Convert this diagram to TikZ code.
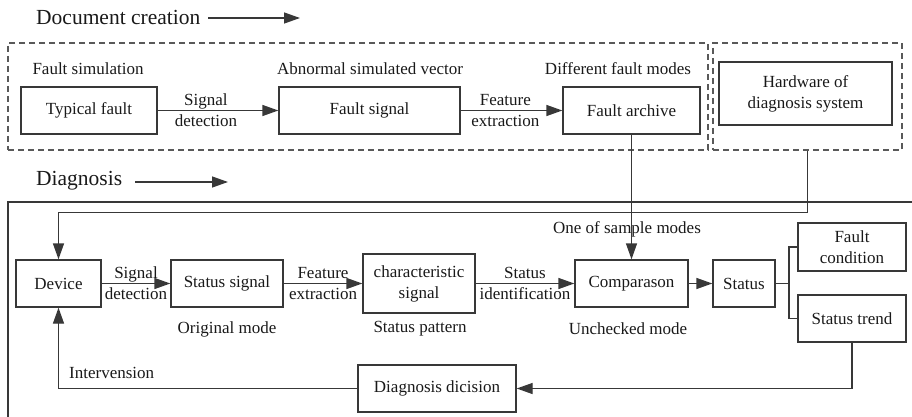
\documentclass[tikz,border=0pt]{standalone}
\usepackage{fontspec}
\setmainfont{Liberation Serif}
\usetikzlibrary{arrows.meta}
\begin{document}
\begin{tikzpicture}[x=1pt,y=-1pt,
  every node/.style={font=\fontsize{17}{21}\selectfont, text=black!90},
  box/.style={draw=black!78, line width=1.3pt, align=center, inner sep=0pt},
  dashbox/.style={draw=black!65, line width=1.4pt, dash pattern=on 6pt off 4pt, inner sep=0pt},
  conn/.style={draw=black!78, line width=1.3pt},
  arr/.style={conn, -{Triangle[length=16pt,width=11pt]}},
  lab/.style={align=center, inner sep=0pt},
  title/.style={font=\fontsize{21.5}{24}\selectfont, anchor=west, inner sep=0pt}
]
\useasboundingbox (0,0) rectangle (912,417);
% titles
\node[title] (t1) at (36,17) {Document creation};
\coordinate (t1e) at (300,18);
\draw[arr] (208,18) -- (t1e);
\node[title] (t2) at (36,181) {Diagnosis};
\coordinate (t2e) at (228,182);
\draw[arr] (135,182) -- (t2e);
% dashed groups
\node[dashbox, minimum width=700, minimum height=107] (g1) at (358,96.5) {};
\node[dashbox, minimum width=189, minimum height=107] (g2) at (807.5,96.5) {};
% frame
\coordinate (fr1) at (8,417);
\coordinate (fr2) at (8,202);
\coordinate (fr3) at (912,202);
\draw[conn] (fr1) -- (fr2) -- (fr3);
% top boxes
\node[box, minimum width=136, minimum height=47] (tf) at (89,110.5) {Typical fault};
\node[box, minimum width=181, minimum height=47] (fs) at (369.5,110.5) {Fault signal};
\node[box, minimum width=137, minimum height=47] (fa) at (631.5,110.5) {Fault archive};
\node[box, minimum width=173, minimum height=63] (hw) at (805.5,93.5) {Hardware of\\diagnosis system};
\node[lab] (l1) at (88,69) {Fault simulation};
\node[lab] (l2) at (370,69) {Abnormal simulated vector};
\node[lab] (l3) at (618,69) {Different fault modes};
\draw[arr] (tf) -- node[lab, pos=0.4] {Signal\\detection} (fs);
\draw[arr] (fs) -- node[lab, pos=0.44] {Feature\\extraction} (fa);
% lower boxes
\node[box, minimum width=85, minimum height=47] (dev) at (58.5,283.5) {Device};
\node[box, minimum width=112, minimum height=47] (ss) at (227,283.5) {Status signal};
\node[box, minimum width=112, minimum height=59] (cs) at (419,283.5) {characteristic\\signal};
\node[box, minimum width=113, minimum height=47] (cmp) at (631.5,283.5) {Comparason};
\node[box, minimum width=62, minimum height=47] (st) at (744,283.5) {Status};
\node[box, minimum width=108, minimum height=48] (fc) at (852,247) {Fault\\condition};
\node[box, minimum width=108, minimum height=47] (str) at (852,318.5) {Status trend};
\node[box, minimum width=158, minimum height=47] (dd) at (437,388.5) {Diagnosis dicision};
% lower labels
\node[lab] (l4) at (627,229) {One of sample modes};
\node[lab] (l5) at (227,329) {Original mode};
\node[lab] (l6) at (420,329) {Status pattern};
\node[lab] (l7) at (628,329) {Unchecked mode};
\node[lab, anchor=west] (l8) at (69,373) {Intervension};
% connectors
\draw[arr] (dev) -- node[lab] {Signal\\detection} (ss);
\draw[arr] (ss) -- node[lab] {Feature\\extraction} (cs);
\draw[arr] (cs) -- node[lab] {Status\\identification} (cmp);
\draw[arr] (cmp) -- (st);
\coordinate (br) at (789,283.5);
\draw[conn] (st.east) -- (br);
\draw[conn] (fc.west) -| (br) |- (str.west);
\draw[arr] (str.south) |- (dd.east);
\draw[arr] (dd.west) -| (dev.south);
\draw[arr] (g2.south) -- ++(0,62) -| (dev.north);
\draw[arr] (fa.south) -- (cmp.north);
\end{tikzpicture}
\end{document}
